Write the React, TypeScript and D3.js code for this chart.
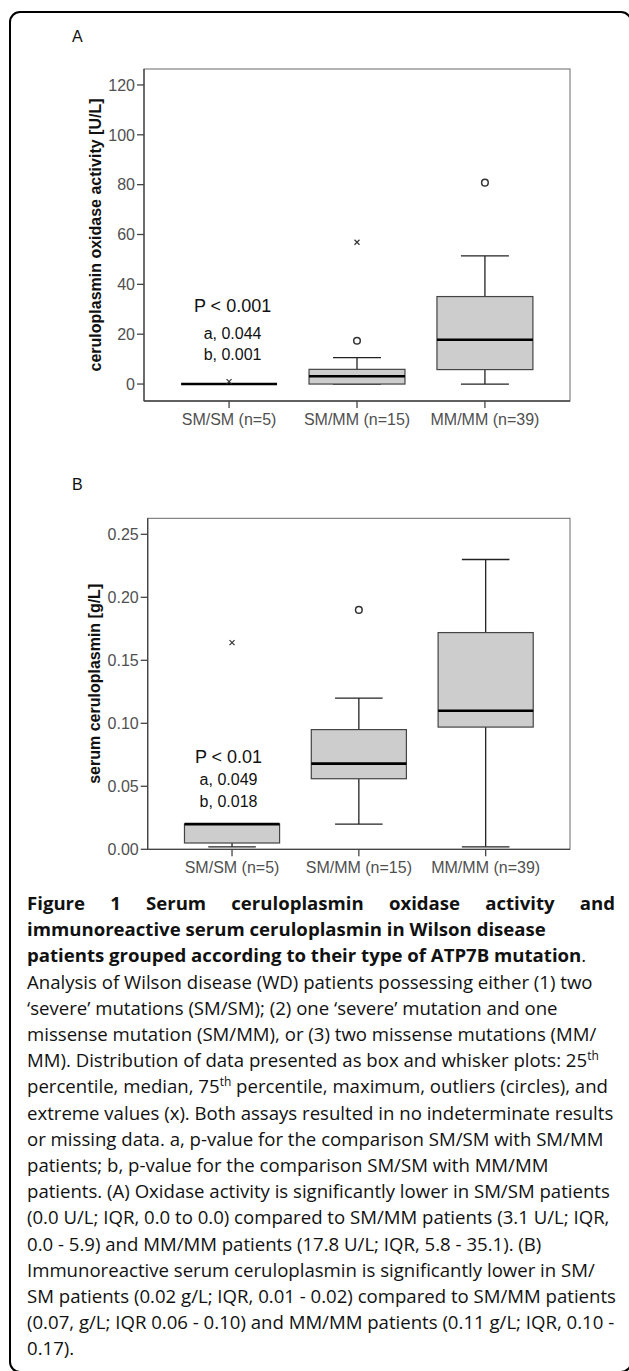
import React, { useLayoutEffect, useRef } from 'react';
import * as d3 from 'd3';

// categories shared by both panels
const groups = ['SM/SM (n=5)', 'SM/MM (n=15)', 'MM/MM (n=39)'];

// panel A: ceruloplasmin oxidase activity [U/L]
const oxidaseQ1 = [0, 0, 5.8];
const oxidaseMedian = [0, 3.1, 17.8];
const oxidaseQ3 = [0, 5.9, 35.1];
const oxidaseLow = [0, 0, 0];
const oxidaseHigh = [0, 10.6, 51.4];
const oxidaseOutliers = [[], [17.4], [80.8]];
const oxidaseExtremes = [[1.0], [56.9], []];
const oxidaseTicks = [0, 20, 40, 60, 80, 100, 120];
const oxidaseDomain = [-6.8, 126.4];
const oxidaseNotes = ['P < 0.001', 'a, 0.044', 'b, 0.001'];

// panel B: serum ceruloplasmin [g/L]
const serumQ1 = [0.005, 0.056, 0.097];
const serumMedian = [0.02, 0.068, 0.11];
const serumQ3 = [0.02, 0.095, 0.172];
const serumLow = [0.002, 0.02, 0.002];
const serumHigh = [0.02, 0.12, 0.23];
const serumOutliers = [[], [0.19], []];
const serumExtremes = [[0.164], [], []];
const serumTicks = [0, 0.05, 0.1, 0.15, 0.2, 0.25];
const serumDomain = [0, 0.2627];
const serumNotes = ['P < 0.01', 'a, 0.049', 'b, 0.018'];

const chartFont = '"Liberation Sans", Arial, sans-serif';
const capFont = '"Open Sans", "Noto Sans", sans-serif';

interface PanelProps {
  label: string;
  labelY: number;
  left: number;
  right: number;
  top: number;
  bottom: number;
  domain: number[];
  ticks: number[];
  fmt: (v: number) => string;
  q1: number[];
  median: number[];
  q3: number[];
  low: number[];
  high: number[];
  outliers: number[][];
  extremes: number[][];
  title: string;
  titleX: number;
  notes: string[];
  noteDx: number;
  noteY: number[];
}

const Panel: React.FC<PanelProps> = (p) => {
  const x = d3.scalePoint<string>().domain(groups).range([p.left, p.right]).padding(0.665);
  const y = d3.scaleLinear().domain(p.domain).range([p.bottom, p.top]);
  const step = x.step();
  const boxW = step * 0.75;
  const capW = boxW / 2;

  return (
    <g fontFamily={chartFont}>
      <text x={72} y={p.labelY} fontSize={16} fill="#111">{p.label}</text>
      <rect x={p.left} y={p.top} width={p.right - p.left} height={p.bottom - p.top}
        fill="none" stroke="#6a6a6a" strokeWidth={1} />
      <line x1={p.left} x2={p.left} y1={p.top} y2={p.bottom} stroke="#444" strokeWidth={1.3} />
      <line x1={p.left} x2={p.right} y1={p.bottom} y2={p.bottom} stroke="#444" strokeWidth={1.3} />

      {p.ticks.map((t) => (
        <g key={t} transform={`translate(0,${y(t)})`}>
          <line x1={p.left - 7} x2={p.left} stroke="#444" strokeWidth={1.3} />
          <text x={p.left - 9} dy="0.36em" textAnchor="end" fontSize={16} fill="#505050">{p.fmt(t)}</text>
        </g>
      ))}

      {groups.map((g) => (
        <g key={g} transform={`translate(${x(g)},0)`}>
          <line y1={p.bottom} y2={p.bottom + 7} stroke="#444" strokeWidth={1.3} />
          <text y={p.bottom + 23.5} textAnchor="middle" fontSize={16} fill="#505050">{g}</text>
        </g>
      ))}

      <text transform={`translate(${p.titleX},${(p.top + p.bottom) / 2}) rotate(-90)`}
        textAnchor="middle" fontSize={16} fontWeight="bold" fill="#111">{p.title}</text>

      {groups.map((g, i) => {
        const cx = x(g)!;
        return (
          <g key={g}>
            <line x1={cx} x2={cx} y1={y(p.q3[i])} y2={y(p.high[i])} stroke="#222" strokeWidth={1.3} />
            <line x1={cx} x2={cx} y1={y(p.q1[i])} y2={y(p.low[i])} stroke="#222" strokeWidth={1.3} />
            <line x1={cx - capW / 2} x2={cx + capW / 2} y1={y(p.high[i])} y2={y(p.high[i])} stroke="#222" strokeWidth={1.3} />
            <line x1={cx - capW / 2} x2={cx + capW / 2} y1={y(p.low[i])} y2={y(p.low[i])} stroke="#222" strokeWidth={1.3} />
            <rect x={cx - boxW / 2} y={y(p.q3[i])} width={boxW} height={y(p.q1[i]) - y(p.q3[i])}
              fill="#cdcdcd" stroke="#444" strokeWidth={1.2} />
            <line x1={cx - boxW / 2} x2={cx + boxW / 2} y1={y(p.median[i])} y2={y(p.median[i])}
              stroke="#000" strokeWidth={2.6} />
            {p.outliers[i].map((v, k) => (
              <circle key={k} cx={cx} cy={y(v)} r={3.3} fill="#fff" stroke="#333" strokeWidth={1.5} />
            ))}
            {p.extremes[i].map((v, k) => (
              <path key={k} transform={`translate(${cx},${y(v)})`} d="M-2.5,-2.5L2.5,2.5M-2.5,2.5L2.5,-2.5"
                stroke="#333" strokeWidth={1.2} />
            ))}
          </g>
        );
      })}

      {p.notes.map((n, k) => (
        <text key={n} x={x(groups[0])! + p.noteDx} y={p.noteY[k]} textAnchor="middle"
          fontSize={k === 0 ? 18 : 16} fill="#111">{n}</text>
      ))}
    </g>
  );
};

const boldLines = [
  'immunoreactive serum ceruloplasmin in Wilson disease',
];

const captionLines: React.ReactNode[] = [
  'Analysis of Wilson disease (WD) patients possessing either (1) two',
  '\u2018severe\u2019 mutations (SM/SM); (2) one \u2018severe\u2019 mutation and one',
  'missense mutation (SM/MM), or (3) two missense mutations (MM/',
  <>MM). Distribution of data presented as box and whisker plots: 25<tspan fontSize={12} dy={-7}>th</tspan></>,
  <>percentile, median, 75<tspan fontSize={12} dy={-7}>th</tspan><tspan dy={7}> percentile, maximum, outliers (circles), and</tspan></>,
  'extreme values (x). Both assays resulted in no indeterminate results',
  'or missing data. a, p-value for the comparison SM/SM with SM/MM',
  'patients; b, p-value for the comparison SM/SM with MM/MM',
  'patients. (A) Oxidase activity is significantly lower in SM/SM patients',
  '(0.0 U/L; IQR, 0.0 to 0.0) compared to SM/MM patients (3.1 U/L; IQR,',
  '0.0 - 5.9) and MM/MM patients (17.8 U/L; IQR, 5.8 - 35.1). (B)',
  'Immunoreactive serum ceruloplasmin is significantly lower in SM/',
  'SM patients (0.02 g/L; IQR, 0.01 - 0.02) compared to SM/MM patients',
  '(0.07, g/L; IQR 0.06 - 0.10) and MM/MM patients (0.11 g/L; IQR, 0.10 -',
  '0.17).',
];

export default function App() {
  const firstLine = useRef<SVGTextElement | null>(null);

  useLayoutEffect(() => {
    // justify the first caption line to the right margin
    const el = firstLine.current;
    if (!el) return;
    el.setAttribute('word-spacing', '0');
    const w = el.getComputedTextLength();
    const gaps = 6;
    el.setAttribute('word-spacing', String(Math.max(0, (615 - 27 - w) / gaps)));
  }, []);

  const lineH = 26.2;
  const base = 910;

  return (
    <svg width={629} height={1371} style={{ position: 'absolute', left: 0, top: 0, background: '#fff' }}>
      <rect x={0} y={0} width={629} height={1371} fill="#fff" />
      <rect x={10} y={12} width={621} height={1360} rx={10} fill="none" stroke="#000" strokeWidth={2} />

      <Panel label="A" labelY={42} left={144} right={570} top={69} bottom={401}
        domain={oxidaseDomain} ticks={oxidaseTicks} fmt={d3.format('d')}
        q1={oxidaseQ1} median={oxidaseMedian} q3={oxidaseQ3} low={oxidaseLow} high={oxidaseHigh}
        outliers={oxidaseOutliers} extremes={oxidaseExtremes}
        title="ceruloplasmin oxidase activity [U/L]" titleX={101} notes={oxidaseNotes} noteDx={3.5}
        noteY={[312, 339, 360]} />

      <Panel label="B" labelY={490} left={147.7} right={570} top={518.3} bottom={849.3}
        domain={serumDomain} ticks={serumTicks} fmt={d3.format('.2f')}
        q1={serumQ1} median={serumMedian} q3={serumQ3} low={serumLow} high={serumHigh}
        outliers={serumOutliers} extremes={serumExtremes}
        title="serum ceruloplasmin [g/L]" titleX={99.5} notes={serumNotes} noteDx={-3.5}
        noteY={[763, 785, 807]} />

      <g fontFamily={capFont} fontSize={18.6} fill="#111">
        <text ref={firstLine} x={27} y={base} fontWeight="bold">Figure 1 Serum ceruloplasmin oxidase activity and</text>
        {boldLines.map((l, i) => (
          <text key={l} x={27} y={base + lineH * (i + 1)} fontWeight="bold">{l}</text>
        ))}
        <text x={27} y={base + lineH * 2}>
          <tspan fontWeight="bold">patients grouped according to their type of ATP7B mutation</tspan>.
        </text>
        {captionLines.map((l, i) => (
          <text key={i} x={27} y={base + lineH * (i + 3)}>{l}</text>
        ))}
      </g>
    </svg>
  );
}
